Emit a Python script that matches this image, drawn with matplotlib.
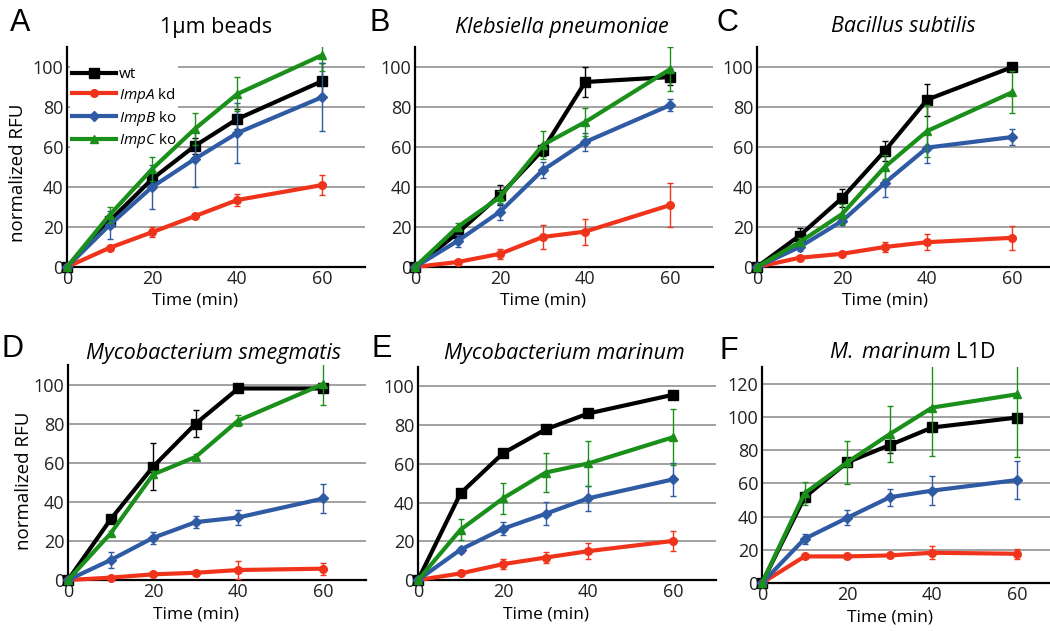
import numpy as np
import matplotlib
matplotlib.use("Agg")
import matplotlib.pyplot as plt
from matplotlib.lines import Line2D

plt.rcParams['font.family'] = ['Open Sans', 'DejaVu Sans']
plt.rcParams['mathtext.fontset'] = 'custom'
plt.rcParams['mathtext.rm'] = 'Open Sans'
plt.rcParams['mathtext.it'] = 'Open Sans:italic'

#################### Data ####################
time = [0, 10, 20, 30, 40, 60]

series_names = ["wt", "ImpA kd", "ImpB ko", "ImpC ko"]
legend_labels = ["wt", r"$\it{ImpA}$ kd", r"$\it{ImpB}$ ko", r"$\it{ImpC}$ ko"]

# panel A - 1um beads
beads_wt = [0, 23, 44, 60.5, 74, 93]
beads_wt_err = [0, 3, 3, 4, 5, 9]
beads_a = [0, 9.6, 17.4, 25.4, 33.5, 41]
beads_a_err = [0, 1, 2.5, 1, 3, 5]
beads_b = [0, 21, 40, 54, 67, 85]
beads_b_err = [0, 7, 11, 14, 15, 17]
beads_c = [0, 26, 49, 69, 86.5, 106]
beads_c_err = [0, 4, 6, 8, 8.5, 8]

# panel B - Klebsiella
kleb_wt = [0, 17, 36, 58.5, 92.5, 95]
kleb_wt_err = [0, 2, 5, 3, 7.5, 4]
kleb_a = [0, 2.5, 6.6, 15, 17.7, 31]
kleb_a_err = [0, 0.5, 2.5, 6, 6.5, 11]
kleb_b = [0, 13, 27.7, 48.4, 62.5, 81]
kleb_b_err = [0, 3, 4, 4, 4.5, 3]
kleb_c = [0, 20, 35, 61, 72.5, 99]
kleb_c_err = [0, 2, 3, 7, 7, 11]

# panel C - Bacillus
bac_wt = [0, 15.7, 34.5, 58, 83.7, 100]
bac_wt_err = [0, 4, 4.5, 5, 8, 0]
bac_a = [0, 4.6, 6.6, 10, 12.4, 14.6]
bac_a_err = [0, 1, 1, 2.5, 4, 6]
bac_b = [0, 10, 23, 42, 59.7, 65]
bac_b_err = [0, 2, 2, 7, 7.5, 4]
bac_c = [0, 12.4, 26.5, 50, 68, 87.4]
bac_c_err = [0, 2, 5, 6, 13, 10.5]

# panel D - M. smegmatis
smeg_wt = [0, 31, 58, 80, 98, 98]
smeg_wt_err = [0, 1.5, 12, 7, 1, 1.5]
smeg_a = [0, 1.2, 2.9, 3.7, 5.1, 5.8]
smeg_a_err = [0, 0.5, 1, 1, 4.5, 3]
smeg_b = [0, 10.2, 21.6, 29.6, 32, 41.7]
smeg_b_err = [0, 4, 3, 3, 4, 7.5]
smeg_c = [0, 23.8, 54, 63, 81.6, 100.3]
smeg_c_err = [0, 1.5, 2, 1.5, 3, 11]

# panel E - M. marinum
mar_wt = [0, 44.8, 65.5, 77.8, 86, 95.7]
mar_wt_err = [0, 1.5, 1.5, 1.5, 1.5, 1]
mar_a = [0, 3.4, 8.2, 11.6, 14.9, 20.2]
mar_a_err = [0, 1, 2.5, 3, 4, 5]
mar_b = [0, 15.7, 26.5, 34.2, 42.2, 52]
mar_b_err = [0, 1.5, 3.5, 6, 6.5, 8.5]
mar_c = [0, 26, 42.2, 55.5, 60.2, 73.8]
mar_c_err = [0, 5.5, 8, 10, 11.5, 14.5]

# panel F - M. marinum L1D
l1d_wt = [0, 51.6, 72.6, 83, 93.6, 99.6]
l1d_wt_err = [0, 3, 2, 5, 2, 2]
l1d_a = [0, 16, 16, 16.6, 18.2, 17.6]
l1d_a_err = [0, 1, 1, 1, 4, 3]
l1d_b = [0, 26.6, 39.2, 51.6, 55.6, 62]
l1d_b_err = [0, 3, 4.5, 5, 8.5, 11.5]
l1d_c = [0, 54, 72.6, 89.6, 105.6, 113.6]
l1d_c_err = [0, 7, 13, 17, 29, 38]

panels = [
    ("A", "1µm beads", "normal", [beads_wt, beads_a, beads_b, beads_c],
     [beads_wt_err, beads_a_err, beads_b_err, beads_c_err], 110, [0, 20, 40, 60, 80, 100]),
    ("B", "Klebsiella pneumoniae", "italic", [kleb_wt, kleb_a, kleb_b, kleb_c],
     [kleb_wt_err, kleb_a_err, kleb_b_err, kleb_c_err], 110, [0, 20, 40, 60, 80, 100]),
    ("C", "Bacillus subtilis", "italic", [bac_wt, bac_a, bac_b, bac_c],
     [bac_wt_err, bac_a_err, bac_b_err, bac_c_err], 110, [0, 20, 40, 60, 80, 100]),
    ("D", "Mycobacterium smegmatis", "italic", [smeg_wt, smeg_a, smeg_b, smeg_c],
     [smeg_wt_err, smeg_a_err, smeg_b_err, smeg_c_err], 110, [0, 20, 40, 60, 80, 100]),
    ("E", "Mycobacterium marinum", "italic", [mar_wt, mar_a, mar_b, mar_c],
     [mar_wt_err, mar_a_err, mar_b_err, mar_c_err], 110, [0, 20, 40, 60, 80, 100]),
    ("F", r"$\it{M.}$ $\it{marinum}$ L1D", "normal", [l1d_wt, l1d_a, l1d_b, l1d_c],
     [l1d_wt_err, l1d_a_err, l1d_b_err, l1d_c_err], 130, [0, 20, 40, 60, 80, 100, 120]),
]

colors = ["#000000", "#f0341c", "#2f5aa4", "#1a8f1a"]
markers = ["s", "o", "D", "^"]
msizes = [7, 5.5, 5, 6]

#################### Layout (pixels) ####################
W, H = 1050, 631
# left, top, bottom of each axes in pixels, width 298 px
axes_px = [(67, 47, 267), (415, 47, 267), (757, 47, 267),
           (68, 365, 580), (418, 367, 580), (762, 367, 583)]
letter_px = [(10, 23), (370, 23), (716, 23), (2, 349), (371, 349), (719, 351)]
title_px = [(216, 27), (562, 27), (903, 27), (213, 353), (564, 353), (912, 352)]
ylabel_x = {"A": -0.135, "D": -0.118}

fig = plt.figure(figsize=(W / 100, H / 100), dpi=100)

for i, (letter, title, tstyle, vals, errs, ymax, yt) in enumerate(panels):
    l, t, b = axes_px[i]
    ax = fig.add_axes([l / W, 1 - b / H, 298 / W, (b - t) / H])
    ax.set_xlim(0, 70)
    ax.set_ylim(0, ymax)
    ax.set_xticks([0, 20, 40, 60])
    ax.set_yticks(yt)
    ax.grid(axis="y", color="#9a9a9a", linewidth=1.3)
    ax.set_axisbelow(True)
    for s in ["top", "right"]:
        ax.spines[s].set_visible(False)
    for s in ["left", "bottom"]:
        ax.spines[s].set_linewidth(1.6)
        ax.spines[s].set_zorder(1)
    ax.tick_params(length=0, labelsize=13, pad=2.5, labelcolor="#222222")

    for k in range(4):
        line, caps, bars = ax.errorbar(time, vals[k], yerr=errs[k], color=colors[k],
                                       marker=markers[k], markersize=msizes[k],
                                       linewidth=3, elinewidth=1, capsize=2,
                                       capthick=1, zorder=3 + k)
        line.set_clip_on(False)

    ax.set_xlabel("Time (min)", fontsize=12.5)
    ax.xaxis.set_label_coords(30 / 70, -0.115 if i < 3 else -0.125)
    if letter in ylabel_x:
        ax.set_ylabel("normalized RFU", fontsize=13.5)
        ax.yaxis.set_label_coords(ylabel_x[letter], 0.43 if letter == "A" else 0.46)
    if letter == "A":
        handles = [Line2D([], [], color=colors[k], marker=markers[k], markersize=msizes[k],
                          linewidth=3) for k in range(4)]
        leg = ax.legend(handles, legend_labels, loc="upper left", bbox_to_anchor=(0.0, 0.93),
                        fontsize=11, handlelength=2.9, handletextpad=0.2, labelspacing=0.25,
                        borderpad=0.1, borderaxespad=0.2, frameon=True, fancybox=False)
        leg.get_frame().set_edgecolor("none")
        leg.get_frame().set_facecolor("white")
        leg.get_frame().set_alpha(1)

    fig.text(letter_px[i][0] / W, 1 - letter_px[i][1] / H, letter, fontsize=22,
             family="Liberation Sans", va="center", ha="left")
    fig.text(title_px[i][0] / W, 1 - title_px[i][1] / H, title, fontsize=15.5,
             style=tstyle, va="center", ha="center")

fig.savefig("out.png", dpi=100)
